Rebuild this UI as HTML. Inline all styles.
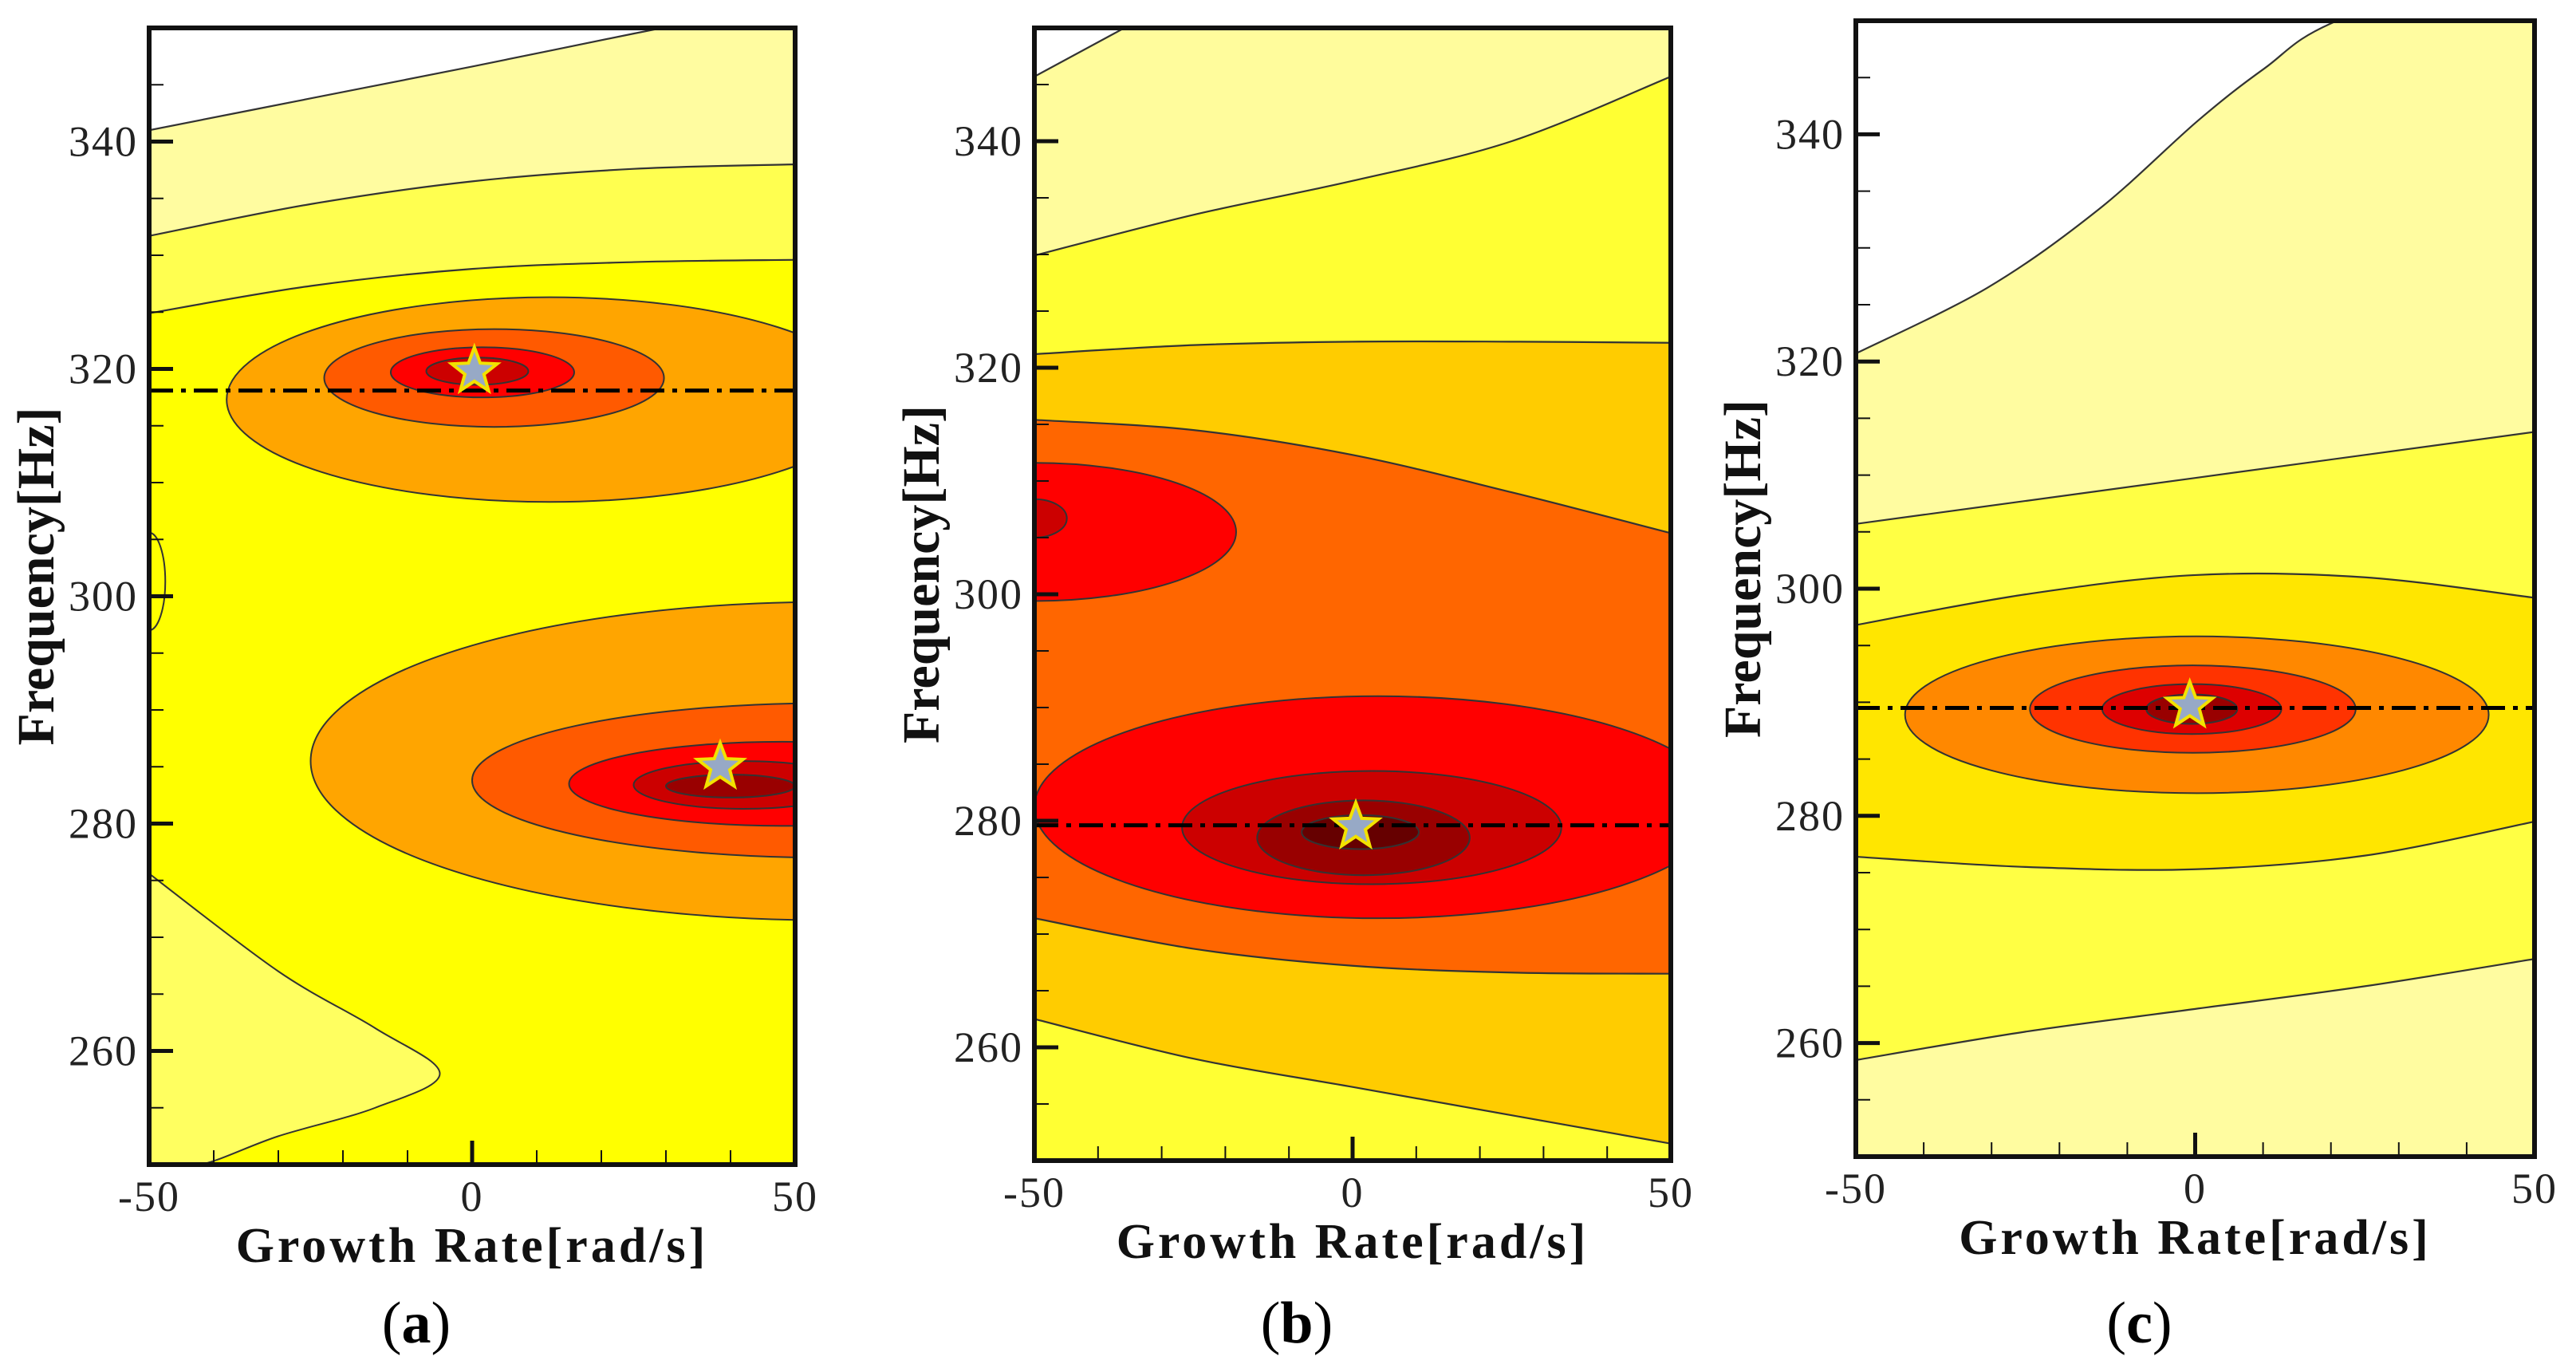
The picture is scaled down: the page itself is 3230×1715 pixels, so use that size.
<!DOCTYPE html>
<html><head><meta charset="utf-8"><style>
html,body{margin:0;padding:0;background:#fff;width:3230px;height:1715px;overflow:hidden}
svg text{font-family:"Liberation Serif",serif}
</style></head><body>
<svg id="fig" width="3230" height="1715" viewBox="0 0 3230 1715" xmlns="http://www.w3.org/2000/svg"></svg>
<script>
// ---------- data ----------
const xTicks = [-50, 0, 50];
const yTicks = [260, 280, 300, 320, 340];
const panelLabels = ["(a)", "(b)", "(c)"];

// Panel A band boundaries (x samples, y values) top to bottom
const aBoundX = [[-50,-25,0,25,50],[-50,-25,0,25,50],[-50,-25,0,25,50]];
const aBoundY = [[341,343.8,346.6,349.5,352.3],[331.7,334.5,336.5,337.6,338.0],[324.9,327.3,328.8,329.4,329.6]];
const aLowX = [-50,-30,-15,-5,-15,-30,-42,-50];
const aLowY = [275.6,267,262,258,255,252.5,250,250];
const aEllCx = [12,3.4,1.6,0.8, 55,55,48,42,40];
const aEllCy = [317.3,319.2,319.7,319.8, 285.5,283.8,283.5,283.4,283.3];
const aEllRx = [50,26.3,14.2,7.9, 80,55,33,17,10];
const aEllRy = [9,4.3,2.2,1.2, 14,6.8,3.7,2.1,1];
const aStarX = [0.35, 38.4];
const aStarY = [319.8, 285];
const aRefLine = [318.1];

// Panel B
const bBoundX = [[-50,-25],[-50,-25,0,25,50],[-50,-25,0,25,50],[-50,-25,0,25,50],[-50,-25,0,25,50],[-50,-25,0,25,50]];
const bBoundY = [[345.7,353.3],[329.9,333.5,336.5,340,345.7],[321.2,322,322.3,322.3,322.2],[315.4,314.5,312.3,309,305.4],[271.4,268.7,267.2,266.6,266.5],[262.5,259,256.5,254,251.5]];
const bEllCx = [-50,-50, 4,3,1.7,1.2];
const bEllCy = [305.5,306.7, 281.2,279.4,278.5,279];
const bEllRx = [31.7,5.1, 54,29.8,16.7,9.2];
const bEllRy = [6.1,1.7, 9.8,5,3.3,1.5];
const bStarX = [0.5];
const bStarY = [279.5];
const bRefLine = [279.6];

// Panel C
const cBoundX = [[-50,-30.6,-14.2,0.4,10.2,20.9,50],[-50,50],[-50,-25,0,25,50],[-50,-25,0,25,50],[-50,-25,0,25,50]];
const cBoundY = [[320.7,326.5,333.4,341.2,345.8,350,356],[305.7,313.8],[296.8,299.5,301.2,301.0,299.2],[276.4,275.5,275.3,276.5,279.5],[258.5,261,263,265,267.4]];
const cEllCx = [0.25,-0.35,-0.5,-0.5];
const cEllCy = [288.9,289.4,289.4,289.4];
const cEllRx = [43,24,13.2,6.7];
const cEllRy = [6.9,3.85,2.2,1.3];
const cStarX = [-0.8];
const cStarY = [289.7];
const cRefLine = [289.5];

// ---------- styles / layout ----------
const NS = "http://www.w3.org/2000/svg";
const svg = document.getElementById("fig");
function mk(tag, attrs, parent){ const e=document.createElementNS(NS,tag); for(const k in attrs) e.setAttribute(k,attrs[k]); (parent||svg).appendChild(e); return e; }

const panels = [
 {id:"a", L:187, R:997, T:35, B:1460, base:"#ffff00",
  bx:aBoundX, by:aBoundY, bc:["#ffffff","#fffca0","#ffff50"],
  ecx:aEllCx, ecy:aEllCy, erx:aEllRx, ery:aEllRy,
  ec:["#ffa500","#ff5a00","#ff0000","#cc0000","#ffa500","#ff5a00","#ff0000","#cc0000","#990000"],
  sx:aStarX, sy:aStarY, ref:aRefLine, low:true},
 {id:"b", L:1297, R:2095, T:35, B:1455, base:"#ffff33",
  bx:bBoundX, by:bBoundY, bc:["#ffffff","#fffc9c","#ffff33","#ffcc00","#ff6600","#ffcc00"],
  ecx:bEllCx, ecy:bEllCy, erx:bEllRx, ery:bEllRy,
  ec:["#ff0000","#cc0000","#ff0000","#cc0000","#990000","#660000"],
  sx:bStarX, sy:bStarY, ref:bRefLine},
 {id:"c", L:2327, R:3178, T:26, B:1450, base:"#fffca0",
  bx:cBoundX, by:cBoundY, bc:["#ffffff","#fffca0","#ffff44","#ffe600","#ffff44"],
  ecx:cEllCx, ecy:cEllCy, erx:cEllRx, ery:cEllRy,
  ec:["#ff8800","#ff3300","#dd0000","#990000"],
  sx:cStarX, sy:cStarY, ref:cRefLine}
];

function smoothPath(pts){
  let d="M"+pts[0][0]+","+pts[0][1];
  for(let i=0;i<pts.length-1;i++){
    const p0=pts[Math.max(0,i-1)],p1=pts[i],p2=pts[i+1],p3=pts[Math.min(pts.length-1,i+2)];
    const c1=[p1[0]+(p2[0]-p0[0])/6,p1[1]+(p2[1]-p0[1])/6];
    const c2=[p2[0]-(p3[0]-p1[0])/6,p2[1]-(p3[1]-p1[1])/6];
    d+=" C"+c1[0]+","+c1[1]+" "+c2[0]+","+c2[1]+" "+p2[0]+","+p2[1];
  }
  return d;
}
function starPts(cx,cy,r){
  let s=[];
  for(let i=0;i<10;i++){const a=-Math.PI/2+i*Math.PI/5;const rr=i%2?r*0.42:r;s.push((cx+rr*Math.cos(a)).toFixed(1)+","+(cy+rr*Math.sin(a)).toFixed(1));}
  return s.join(" ");
}

panels.forEach((p,pi)=>{
  const X=v=>p.L+(v+50)/100*(p.R-p.L);
  const Y=v=>p.B-(v-250)/100*(p.B-p.T);
  const g=mk("g",{});
  
  
  const cp=mk("clipPath",{id:"clip"+p.id},g);
  mk("rect",{x:p.L,y:p.T,width:p.R-p.L,height:p.B-p.T},cp);
  const plot=mk("g",{"clip-path":"url(#clip"+p.id+")"},g);
  
  
  mk("rect",{x:p.L,y:p.T,width:p.R-p.L,height:p.B-p.T,fill:p.base},plot);
  for(let i=p.bx.length-1;i>=0;i--){
    const pts=p.bx[i].map((x,k)=>[X(x),Y(p.by[i][k])]);
    const first=pts[0], last=pts[pts.length-1];
    let d=smoothPath(pts);
    d+=" L"+(last[0]+20)+","+last[1]+" L"+(last[0]+20)+","+(p.T-20)+" L"+(first[0]-20)+","+(p.T-20)+" L"+(first[0]-20)+","+first[1]+" Z";
    const band=mk("path",{d:d,fill:p.bc[i]},plot);
    
    
    const ln=mk("path",{d:smoothPath(pts),fill:"none",stroke:"#333","stroke-width":2.2},plot);
    
    
  }
  if(p.low){
    const pts=aLowX.map((x,k)=>[X(x),Y(aLowY[k])]);
    const low=mk("path",{d:smoothPath(pts)+" Z",fill:"#ffff60",stroke:"#333","stroke-width":2},plot);
    
    
    const arc=mk("ellipse",{cx:X(-50),cy:Y(301.3),rx:X(-47.5)-X(-50),ry:Y(297)-Y(301.3),fill:"none",stroke:"#333","stroke-width":2},plot);
    
    
  }
  p.ecx.forEach((cx,i)=>{
    const e=mk("ellipse",{cx:X(cx),cy:Y(p.ecy[i]),rx:X(p.erx[i])-X(0),ry:(p.ery[i]/100*(p.B-p.T)).toFixed(1),fill:p.ec[i],stroke:"#333","stroke-width":2},plot);
    
    
  });
  p.ref.forEach(v=>{
    const l=mk("line",{x1:p.L,x2:p.R,y1:Y(v),y2:Y(v),stroke:"#000","stroke-width":5,"stroke-dasharray":"30 10 6 10"},plot);
    
    
  });
  p.sx.forEach((sx,i)=>{
    const s=mk("polygon",{points:starPts(X(sx),Y(p.sy[i]),30),fill:"#97a9c6",stroke:"#f2e200","stroke-width":4},plot);
    
    
  });
  const tg=mk("g",{stroke:"#111"},g);
  for(let v=250;v<=350;v+=5){
    const major=yTicks.indexOf(v)>=0;
    mk("line",{x1:p.L,x2:p.L+(major?30:18),y1:Y(v),y2:Y(v),"stroke-width":major?5:2},tg);
  }
  for(let v=-40;v<=40;v+=10){
    const major=v===0;
    mk("line",{x1:X(v),x2:X(v),y1:p.B,y2:p.B-(major?30:18),"stroke-width":major?5:2},tg);
  }
  const fr=mk("rect",{x:p.L,y:p.T,width:p.R-p.L,height:p.B-p.T,fill:"none",stroke:"#111","stroke-width":6},g);
  
  
  yTicks.forEach(v=>{
    const t=mk("text",{x:p.L-14,y:Y(v)+18,"text-anchor":"end","font-size":54,"letter-spacing":2,fill:"#222"},g);
    t.textContent=v;
    
    
  });
  xTicks.forEach(v=>{
    const t=mk("text",{x:X(v),y:p.B+58,"text-anchor":"middle","font-size":54,"letter-spacing":2,fill:"#222"},g);
    t.textContent=v;
    
    
  });
  const xt=mk("text",{x:(p.L+p.R)/2,y:p.B+122,"text-anchor":"middle","font-size":62,"letter-spacing":4,"font-weight":"bold",fill:"#111"},g);
  xt.textContent="Growth Rate[rad/s]";
  
  
  const yx=p.L-120, yy=(p.T+p.B)/2-25;
  const yt=mk("text",{x:yx,y:yy,"text-anchor":"middle","font-size":66,"font-weight":"bold",fill:"#111",transform:"rotate(-90 "+yx+" "+yy+")"},g);
  yt.textContent="Frequency[Hz]";
  
  
  const pl=mk("text",{x:(p.L+p.R)/2-70,y:1683,"text-anchor":"middle","font-size":74,fill:"#000"},g);
  pl.innerHTML='(<tspan font-weight="bold">'+panelLabels[pi].slice(1,2)+'</tspan>)';
  
  
});
</script>
</body></html>
